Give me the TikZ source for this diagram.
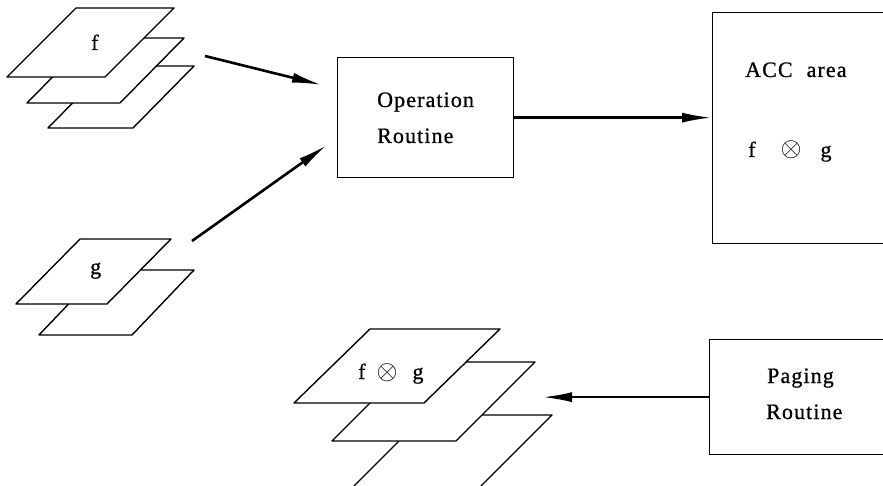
\documentclass[tikz,border=0pt]{standalone}
\usepackage{fontspec}
\setmainfont{Liberation Serif}[LetterSpace=5,FakeBold=0.8]
\usetikzlibrary{arrows.meta}
\newcommand\drawsheet[5]{\path[sheet] (#1,#2) -- ++(#3,0) -- ++(#5,-#4) -- ++(-#3,0) -- cycle;}
\newcommand\oxsym{{\fontsize{10}{12}\selectfont\scalebox{2.7}{$\otimes$}}}
\begin{document}
\begin{tikzpicture}[x=1pt,y=-1pt,
  sheet/.style={draw=black, fill=white, line width=1.4pt, line join=round},
  box/.style={draw=black, line width=1.3pt, rectangle, inner sep=0pt},
  arr/.style={line width=2.6pt, -{Latex[length=30pt,width=10pt]}},
  lbl/.style={font=\fontsize{22}{26}\selectfont, inner sep=0pt, anchor=base west},
]
\useasboundingbox (0,0) rectangle (883,486);
\clip (0,0) rectangle (883,486);
% f sheets
\drawsheet{48}{128}{85}{62}{61}
\drawsheet{27}{103}{93}{65}{64}
\drawsheet{7}{77}{98}{69}{69}
% g sheets
\drawsheet{39}{335}{93}{65}{62}
\drawsheet{16}{304}{91}{65}{64}
% result sheets
\drawsheet{353}{487}{127}{72}{72}
\drawsheet{332}{441}{124}{79}{79}
\drawsheet{294}{403}{130}{74}{76}
% sheet labels
\node[lbl] (f) at (91,50) {f};
\node[lbl] (g) at (90,274) {g};
\node[lbl] (fg) at (358,379) {f\hspace{11pt}\oxsym\hspace{15pt}g};
% boxes
\node[box, minimum width=176pt, minimum height=120pt, anchor=north west] (op) at (337,57) {};
\node[box, minimum width=200pt, minimum height=231pt, anchor=north west] (acc) at (712,12) {};
\node[box, minimum width=200pt, minimum height=115pt, anchor=north west] (pag) at (709,339) {};
\node[lbl] (op1) at (377,107) {Operation};
\node[lbl] (op2) at (377,143) {Routine};
\node[lbl] (acc1) at (745,77) {ACC\hspace{14pt}area};
\node[lbl] (acc2) at (748,157) {f\hspace{25pt}\oxsym\hspace{19pt}g};
\node[lbl] (pag1) at (767,383) {Paging};
\node[lbl] (pag2) at (766,419) {Routine};
% arrows
\coordinate (fs) at (205,56);
\coordinate (ft) at (322,85);
\coordinate (gs) at (192,241);
\coordinate (gt) at (327,145);
\coordinate (pt) at (542,395);
\draw[arr] (fs) -- (ft);
\draw[arr] (gs) -- (gt);
\draw[arr] (op.east) -- (op.east -| acc.west);
\draw[arr] (pag.west) -- (pag.west -| pt);
\end{tikzpicture}
\end{document}
